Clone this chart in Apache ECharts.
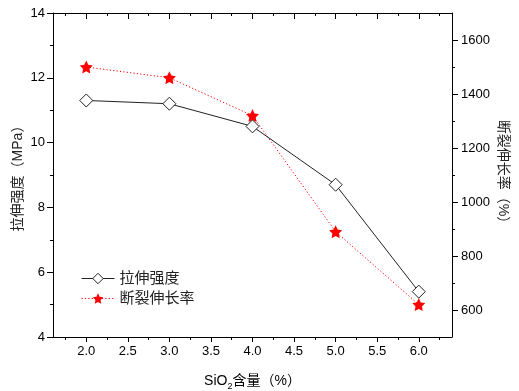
<!DOCTYPE html>
<html>
<head>
<meta charset="utf-8">
<script src="https://cdn.jsdelivr.net/npm/echarts@6/dist/echarts.min.js"></script>
<style>
  html, body { margin: 0; padding: 0; background: #fff; }
  #chart { width: 519px; height: 391px; }
</style>
</head>
<body>
<div id="chart"></div>
<script>
const sio2Content = [2.0, 3.0, 4.0, 5.0, 6.0];
const tensileStrength = [11.3, 11.2, 10.5, 8.7, 5.4];
const elongation = [1500, 1460, 1320, 890, 620];

const xMajorTicks = [2.0, 2.5, 3.0, 3.5, 4.0, 4.5, 5.0, 5.5, 6.0];
const xMinorTicks = [1.75, 2.25, 2.75, 3.25, 3.75, 4.25, 4.75, 5.25, 5.75, 6.25];
const rightMajorTicks = [600, 800, 1000, 1200, 1400, 1600];
const rightMinorTicks = [700, 900, 1100, 1300, 1500];

const FONT = '"Liberation Sans", Arial, "Noto Sans CJK SC", sans-serif';
const AXIS = { lineStyle: { color: '#000', width: 1 } };
const LABEL = { color: '#000', fontSize: 13, fontFamily: FONT };

function extraX(position, ticks, length, inside) {
  return {
    type: 'value', position, min: 1.6, max: 6.4,
    axisLine: { show: false },
    axisTick: { show: true, customValues: ticks, length, inside, lineStyle: { color: '#000' } },
    axisLabel: { show: false },
    splitLine: { show: false },
  };
}

const chart = echarts.init(document.getElementById('chart'));
chart.setOption({
  backgroundColor: '#fff',
  animation: false,
  grid: { left: 53, right: 67, top: 13, bottom: 54, outerBoundsMode: 'none' },
  legend: {
    orient: 'vertical',
    left: 81,
    top: 271,
    padding: 0,
    itemWidth: 33,
    itemHeight: 13,
    itemGap: 5,
    lineStyle: { width: 1 },
    itemStyle: { borderWidth: 1 },
    textStyle: { color: '#222', fontSize: 15, fontFamily: FONT },
    data: ['拉伸强度', '断裂伸长率'],
  },
  // right axis title, turned to read top to bottom
  graphic: [
    {
      type: 'text',
      x: 503,
      y: 175,
      rotation: -Math.PI / 2,
      style: {
        text: '断裂伸长率（%）',
        fill: '#222',
        font: '14px ' + FONT,
        align: 'center',
        verticalAlign: 'middle',
      },
    },
  ],
  xAxis: [
    {
      type: 'value', position: 'bottom', min: 1.6, max: 6.4,
      name: 'SiO{sub|2}含量（%）',
      nameLocation: 'middle',
      nameGap: 35,
      nameTextStyle: {
        color: '#000', fontSize: 14, fontFamily: FONT,
        rich: { sub: { fontSize: 9, fontFamily: FONT, color: '#000', padding: [10, 0, 0, 0] } },
      },
      axisLine: AXIS,
      axisTick: { show: true, customValues: xMajorTicks, length: 5, lineStyle: { color: '#000' } },
      axisLabel: { ...LABEL, customValues: xMajorTicks, margin: 8, formatter: (v) => v.toFixed(1) },
      splitLine: { show: false },
    },
    extraX('bottom', xMinorTicks, 3, false),
    {
      type: 'value', position: 'top', min: 1.6, max: 6.4,
      axisLine: AXIS,
      axisTick: { show: true, customValues: xMajorTicks, length: 6, inside: true, lineStyle: { color: '#000' } },
      axisLabel: { show: false },
      splitLine: { show: false },
    },
    extraX('top', xMinorTicks, 3, true),
  ],
  yAxis: [
    {
      type: 'value', position: 'left', min: 4, max: 14, interval: 2,
      name: '拉伸强度（MPa）',
      nameLocation: 'middle',
      nameGap: 28,
      nameMoveOverlap: false,
      nameTextStyle: { color: '#222', fontSize: 14, fontFamily: FONT },
      axisLine: AXIS,
      axisTick: { show: true, length: 6, lineStyle: { color: '#000' } },
      minorTick: { show: true, splitNumber: 2, length: 3, lineStyle: { color: '#000' } },
      axisLabel: { ...LABEL, margin: 8 },
      splitLine: { show: false },
    },
    {
      type: 'value', position: 'right', min: 500, max: 1700,
      axisLine: AXIS,
      axisTick: { show: true, customValues: rightMajorTicks, length: 6, lineStyle: { color: '#000' } },
      axisLabel: { ...LABEL, customValues: rightMajorTicks, margin: 9, formatter: (v) => String(v) },
      splitLine: { show: false },
    },
    {
      type: 'value', position: 'right', min: 500, max: 1700,
      axisLine: { show: false },
      axisTick: { show: true, customValues: rightMinorTicks, length: 3, lineStyle: { color: '#000' } },
      axisLabel: { show: false },
      splitLine: { show: false },
    },
  ],
  series: [
    {
      name: '拉伸强度',
      type: 'line',
      xAxisIndex: 0,
      yAxisIndex: 0,
      data: sio2Content.map((x, i) => [x, tensileStrength[i]]),
      symbol: 'diamond',
      symbolSize: 13,
      itemStyle: { color: '#fff', borderColor: '#222', borderWidth: 1 },
      lineStyle: { color: '#222', width: 1 },
      z: 3,
    },
    {
      name: '断裂伸长率',
      type: 'line',
      xAxisIndex: 0,
      yAxisIndex: 1,
      data: sio2Content.map((x, i) => [x, elongation[i]]),
      symbol: 'path://M0,-10 L2.94,-4.05 L9.51,-3.09 L4.76,1.55 L5.88,8.09 L0,5 L-5.88,8.09 L-4.76,1.55 L-9.51,-3.09 L-2.94,-4.05 Z',
      symbolSize: 13,
      itemStyle: { color: '#ff0000', borderWidth: 0 },
      lineStyle: { color: '#ff0000', width: 1, type: [1.2, 2.2] },
      z: 2,
    },
  ],
});
</script>
</body>
</html>
